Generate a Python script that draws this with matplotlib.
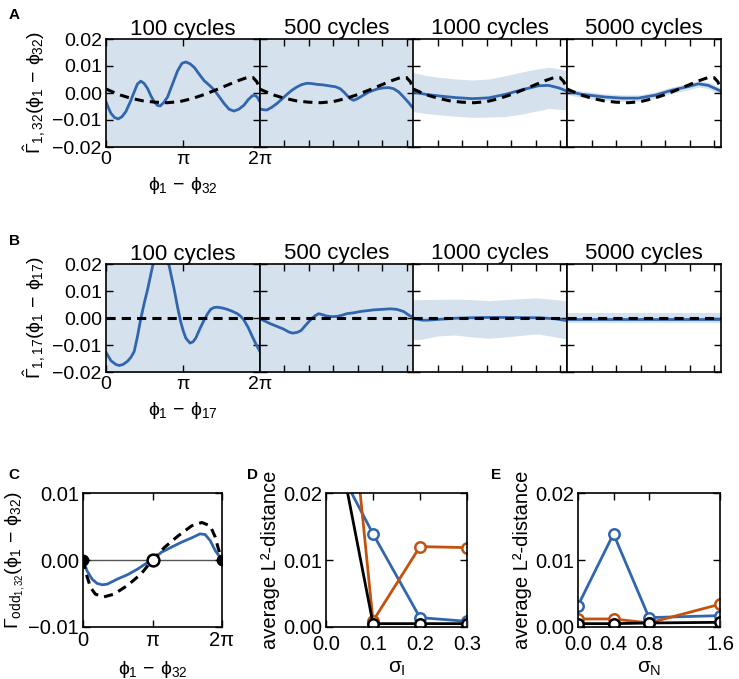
import numpy as np
import matplotlib
matplotlib.use("Agg")
import matplotlib.pyplot as plt
from matplotlib.ticker import FuncFormatter

plt.rcParams['font.family'] = ['Liberation Sans', 'DejaVu Sans']
plt.rcParams['mathtext.fontset'] = 'custom'
plt.rcParams['mathtext.rm'] = 'Liberation Sans'
plt.rcParams['mathtext.it'] = 'Liberation Sans'
plt.rcParams['mathtext.bf'] = 'Liberation Sans:bold'
plt.rcParams['mathtext.fallback'] = 'stixsans'

TWO_PI = 2 * np.pi
BLUE = '#3166ae'
ORANGE = '#c2520f'
BAND = '#d6e1ee'

# ---------------- data ----------------
cycles = ['100 cycles', '500 cycles', '1000 cycles', '5000 cycles']

# Panel A: true interaction function (dashed)
A_true_x = [0.00, 0.30, 0.60, 1.00, 1.50, 2.00, 2.50, 3.00, 3.50, 4.00, 4.50, 5.00, 5.40, 5.75, 6.00, 6.15, 6.28]
A_true_y = [0.0015, 0.0003, -0.0008, -0.0019, -0.0029, -0.0034, -0.0036, -0.0032, -0.0021, -0.0006,
            0.0012, 0.0031, 0.0046, 0.0057, 0.0057, 0.0042, 0.0015]

A100_x = [0.00, 0.10, 0.20, 0.35, 0.50, 0.65, 0.81, 0.98, 1.15, 1.28, 1.42, 1.56, 1.70, 1.84, 1.97, 2.10,
          2.21, 2.35, 2.51, 2.70, 2.92, 3.10, 3.26, 3.43, 3.60, 3.80, 4.00, 4.20, 4.41, 4.62, 4.82, 5.02,
          5.22, 5.42, 5.63, 5.80, 5.97, 6.08, 6.17, 6.28]
A100_y = [-0.0033, -0.0055, -0.0075, -0.0091, -0.0096, -0.0088, -0.0069, -0.0035, 0.0004, 0.0033, 0.0044,
          0.0035, 0.0016, -0.0012, -0.0033, -0.0046, -0.0048, -0.0036, -0.0015, 0.0030, 0.0082, 0.0110,
          0.0115, 0.0108, 0.0095, 0.0070, 0.0046, 0.0030, 0.0012, -0.0014, -0.0039, -0.0060, -0.0067,
          -0.0060, -0.0045, -0.0025, -0.0010, -0.0009, -0.0015, -0.0033]

A500_x = [0.00, 0.15, 0.30, 0.50, 0.71, 0.92, 1.12, 1.32, 1.52, 1.72, 1.93, 2.13, 2.34, 2.60, 2.88, 3.10,
          3.29, 3.45, 3.56, 3.70, 3.84, 4.00, 4.24, 4.45, 4.65, 4.85, 5.06, 5.27, 5.47, 5.68, 5.88, 6.08, 6.28]
A500_y = [-0.0058, -0.0062, -0.0063, -0.0053, -0.0039, -0.0022, -0.0005, 0.0010, 0.0022, 0.0031, 0.0036,
          0.0035, 0.0032, 0.0030, 0.0026, 0.0023, 0.0016, 0.0003, -0.0008, -0.0021, -0.0027, -0.0021,
          -0.0008, 0.0003, 0.0010, 0.0016, 0.0019, 0.0020, 0.0016, 0.0004, -0.0015, -0.0035, -0.0058]

A1000_x = [0.00, 0.52, 1.06, 1.74, 2.42, 3.09, 3.77, 4.45, 5.13, 5.54, 5.94, 6.28]
A1000_y = [0.0004, -0.0005, -0.0011, -0.0017, -0.0021, -0.0018, -0.0005, 0.0012, 0.0027, 0.0028, 0.0019, 0.0007]
A1000_hi = [0.0076, 0.0065, 0.0058, 0.0052, 0.0048, 0.0052, 0.0064, 0.0078, 0.0090, 0.0095, 0.0090, 0.0082]
A1000_lo = [-0.0069, -0.0076, -0.0081, -0.0086, -0.0090, -0.0089, -0.0087, -0.0078, -0.0065, -0.0057, -0.0060, -0.0063]

A5000_x = [0.00, 0.61, 1.56, 2.24, 2.92, 3.60, 4.27, 4.95, 5.36, 5.77, 6.28]
A5000_y = [0.0006, -0.0005, -0.0015, -0.0019, -0.0019, -0.0008, 0.0010, 0.0024, 0.0034, 0.0028, 0.0007]
A5000_hi = [0.0018, 0.0007, -0.0003, -0.0007, -0.0007, 0.0004, 0.0022, 0.0036, 0.0046, 0.0040, 0.0019]
A5000_lo = [-0.0006, -0.0017, -0.0027, -0.0031, -0.0031, -0.0020, -0.0002, 0.0012, 0.0022, 0.0016, -0.0005]

# Panel B: true function is zero
B_true_x = [0.0, 6.2832]
B_true_y = [0.0, 0.0]

B100_x = [0.00, 0.20, 0.40, 0.54, 0.70, 0.88, 1.02, 1.15, 1.28, 1.42, 1.56, 1.70, 1.90, 2.05, 2.24, 2.42,
          2.58, 2.78, 2.92, 3.05, 3.16, 3.26, 3.43, 3.55, 3.66, 3.83, 4.00, 4.14, 4.27, 4.41, 4.55, 4.75,
          4.95, 5.15, 5.36, 5.50, 5.63, 5.80, 5.97, 6.12, 6.28]
B100_y = [-0.0127, -0.0158, -0.0172, -0.0176, -0.0172, -0.0160, -0.0145, -0.0124, -0.0070, -0.0002,
          0.0055, 0.0107, 0.0192, 0.0235, 0.0255, 0.0235, 0.0192, 0.0107, 0.0040, -0.0015, -0.0050,
          -0.0075, -0.0093, -0.0088, -0.0075, -0.0040, -0.0008, 0.0015, 0.0032, 0.0039, 0.0040, 0.0037,
          0.0032, 0.0025, 0.0016, 0.0006, -0.0008, -0.0035, -0.0069, -0.0097, -0.0124]

B500_x = [0.00, 0.44, 0.98, 1.20, 1.35, 1.55, 1.70, 1.87, 2.07, 2.25, 2.41, 2.58, 2.75, 2.95, 3.16, 3.36,
          3.56, 3.83, 4.11, 4.38, 4.65, 5.00, 5.33, 5.60, 5.88, 6.10, 6.28]
B500_y = [-0.0002, -0.0021, -0.0041, -0.0052, -0.0056, -0.0053, -0.0046, -0.0028, -0.0008, 0.0007, 0.0016,
          0.0012, 0.0007, 0.0005, 0.0006, 0.0010, 0.0016, 0.0019, 0.0024, 0.0027, 0.0030, 0.0032, 0.0034,
          0.0032, 0.0024, 0.0010, 0.0002]

B1000_x = [0.00, 0.38, 0.60, 1.06, 1.70, 2.42, 3.10, 3.77, 4.90, 5.13, 5.81, 6.28]
B1000_y = [-0.0002, -0.0008, -0.0008, -0.0005, -0.0001, 0.0001, 0.0002, 0.0002, 0.0001, 0.0001, -0.0003, -0.0010]
B1000_hi = [0.0068, 0.0068, 0.0069, 0.0069, 0.0070, 0.0068, 0.0064, 0.0068, 0.0074, 0.0074, 0.0068, 0.0064]
B1000_lo = [-0.0081, -0.0078, -0.0074, -0.0066, -0.0063, -0.0070, -0.0075, -0.0070, -0.0060, -0.0060, -0.0070, -0.0078]

B5000_x = [0.00, 6.28]
B5000_y = [-0.0002, -0.0002]
B5000_hi = [0.0017, 0.0017]
B5000_lo = [-0.0019, -0.0019]

FULL = 0.05  # CI for 100 / 500 cycles exceeds the axis range

# Panel C: odd part
C_est_x = [0.00, 0.18, 0.41, 0.64, 0.87, 1.10, 1.55, 2.01, 2.47, 2.93, 3.14, 3.54, 3.99, 4.45, 4.91, 5.29,
           5.52, 5.75, 5.98, 6.28]
C_est_y = [0.0, -0.0016, -0.00285, -0.0035, -0.0037, -0.0036, -0.00285, -0.0022, -0.00135, -0.00035, 0.0,
           0.00115, 0.0019, 0.00265, 0.0033, 0.0039, 0.0038, 0.0029, 0.0014, 0.0]
C_true_x = [0.00, 0.15, 0.34, 0.56, 0.95, 1.40, 2.01, 2.62, 3.14, 3.69, 4.30, 4.91, 5.37, 5.75, 5.98, 6.10, 6.28]
C_true_y = [0.0, -0.0021, -0.0041, -0.0051, -0.0055, -0.0051, -0.0038, -0.0021, 0.0, 0.0019, 0.0036, 0.0051,
            0.0056, 0.0051, 0.0034, 0.0019, 0.0]
C_stable_x = [0.0, 6.2832]
C_unstable_x = [3.1416]

# Panel D: vs sigma_I
D_x = [0.0, 0.1, 0.2, 0.3]
D_blue = [0.0273, 0.0139, 0.0014, 0.00085]
D_orange = [0.071, 0.0009, 0.0120, 0.01185]
D_black = [0.0366, 0.0005, 0.0005, 0.0005]

# Panel E: vs sigma_N
E_x = [0.0, 0.4, 0.8, 1.6]
E_blue = [0.0032, 0.0139, 0.0014, 0.0017]
E_orange = [0.0012, 0.0012, 0.0006, 0.0034]
E_black = [0.0005, 0.0005, 0.0006, 0.0007]

# ---------------- figure ----------------
W, H = 739, 679
fig = plt.figure(figsize=(W / 100, H / 100), dpi=100)


def ax_px(l, t, r, b):
    return fig.add_axes([l / W, 1 - b / H, (r - l) / W, (b - t) / H])


def minus_fmt(fmt):
    return FuncFormatter(lambda v, p: (fmt % v).replace('-', '\u2212'))


def style(ax, labelsize):
    for s in ax.spines.values():
        s.set_linewidth(1.2)
        s.set_color('black')
    ax.tick_params(direction='in', top=True, right=True, length=5, width=1,
                   labelsize=labelsize, pad=3, colors='black')


def row(top, bottom, series, true_x, true_y, ylabel, xlabel):
    lefts = [106, 259.5, 413, 567]
    w = 154
    axes = []
    for i, (xs, ys, hi, lo) in enumerate(series):
        ax = ax_px(lefts[i], top, lefts[i] + w, bottom)
        ax.fill_between(xs, lo, hi, color=BAND, lw=0, zorder=1)
        ax.plot(xs, ys, color=BLUE, lw=2.0, zorder=2)
        ax.plot(true_x, true_y, color='black', lw=2.2, ls=(0, (3, 2)), zorder=3)
        ax.set_xlim(0, TWO_PI)
        ax.set_ylim(-0.02, 0.02)
        ax.set_yticks([-0.02, -0.01, 0.0, 0.01, 0.02])
        style(ax, 14)
        ax.set_title(cycles[i], fontsize=16, pad=3)
        if i == 0:
            ax.set_xticks([0, np.pi, TWO_PI])
            ax.set_xticklabels(['0', '\u03c0', '2\u03c0'])
            ax.yaxis.set_major_formatter(minus_fmt('%.2f'))
            ax.set_ylabel(ylabel, fontsize=14, labelpad=3)
            ax.set_xlabel(xlabel, fontsize=14, labelpad=5)
        else:
            ax.set_xticks([1, 2, 3, 4, 5, 6])
            ax.tick_params(labelbottom=False, labelleft=False)
        axes.append(ax)
    return axes


seriesA = [
    (A100_x, A100_y, [FULL] * len(A100_x), [-FULL] * len(A100_x)),
    (A500_x, A500_y, [FULL] * len(A500_x), [-FULL] * len(A500_x)),
    (A1000_x, A1000_y, A1000_hi, A1000_lo),
    (A5000_x, A5000_y, A5000_hi, A5000_lo),
]
seriesB = [
    (B100_x, B100_y, [FULL] * len(B100_x), [-FULL] * len(B100_x)),
    (B500_x, B500_y, [FULL] * len(B500_x), [-FULL] * len(B500_x)),
    (B1000_x, B1000_y, B1000_hi, B1000_lo),
    (B5000_x, B5000_y, B5000_hi, B5000_lo),
]

row(39, 147, seriesA, A_true_x, A_true_y,
    r'$\hat{\Gamma}_{1,32}(\phi_1\,-\,\phi_{32})$', r'$\phi_1\,-\,\phi_{32}$')
row(264, 372, seriesB, B_true_x, B_true_y,
    r'$\hat{\Gamma}_{1,17}(\phi_1\,-\,\phi_{17})$', r'$\phi_1\,-\,\phi_{17}$')

# Panel C
axC = ax_px(83, 493, 222, 627)
axC.axhline(0, color='#555555', lw=1.0, zorder=1)
axC.plot(C_est_x, C_est_y, color=BLUE, lw=2.0, zorder=2)
axC.plot(C_true_x, C_true_y, color='black', lw=2.2, ls=(0, (3, 2)), zorder=3)
axC.plot(C_stable_x, [0] * len(C_stable_x), 'o', color='black', ms=7.5, zorder=4, clip_on=True)
axC.plot(C_unstable_x, [0] * len(C_unstable_x), 'o', mfc='white', mec='black', mew=1.8, ms=8.5, zorder=4)
axC.set_xlim(0, TWO_PI)
axC.set_ylim(-0.01, 0.01)
axC.set_xticks([0, np.pi, TWO_PI])
axC.set_xticklabels(['0', '\u03c0', '2\u03c0'])
axC.set_yticks([-0.01, 0.0, 0.01])
axC.yaxis.set_major_formatter(minus_fmt('%.2f'))
style(axC, 14.5)
axC.set_ylabel(r'$\Gamma_{\mathrm{odd}_{1,32}}(\phi_1\,-\,\phi_{32})$', fontsize=14, labelpad=1)
axC.set_xlabel(r'$\phi_1\,-\,\phi_{32}$', fontsize=14, labelpad=6)


def lineplot(ax, xs, blue, orange, black):
    for ys, c in [(blue, BLUE), (orange, ORANGE), (black, 'black')]:
        ax.plot(xs, ys, '-o', color=c, lw=2.0, ms=7.5, mfc='white', mec=c, mew=1.8)


axD = ax_px(326, 493, 467, 627)
lineplot(axD, D_x, D_blue, D_orange, D_black)
axD.set_xlim(0, 0.3)
axD.set_ylim(0, 0.02)
axD.set_xticks([0.0, 0.1, 0.2, 0.3])
axD.set_yticks([0.0, 0.01, 0.02])
axD.xaxis.set_major_formatter(minus_fmt('%.1f'))
axD.yaxis.set_major_formatter(minus_fmt('%.2f'))
style(axD, 14.5)
axD.tick_params(axis='x', pad=5.5)
axD.set_ylabel('average L\u00b2-distance', fontsize=14.5, labelpad=2)
axD.set_xlabel(r'$\sigma_\mathrm{I}$', fontsize=15, labelpad=4)

axE = ax_px(578, 493, 720, 627)
lineplot(axE, E_x, E_blue, E_orange, E_black)
axE.set_xlim(0, 1.6)
axE.set_ylim(0, 0.02)
axE.set_xticks(E_x)
axE.set_yticks([0.0, 0.01, 0.02])
axE.xaxis.set_major_formatter(minus_fmt('%.1f'))
axE.yaxis.set_major_formatter(minus_fmt('%.2f'))
style(axE, 14.5)
axE.tick_params(axis='x', pad=5.5)
axE.set_ylabel('average L\u00b2-distance', fontsize=14.5, labelpad=2)
axE.set_xlabel(r'$\sigma_\mathrm{N}$', fontsize=15, labelpad=4)

# panel letters
for lab, x, y in [('A', 14, 15), ('B', 14, 241), ('C', 14, 475), ('D', 253, 475), ('E', 496, 475)]:
    fig.text(x / W, 1 - y / H, lab, fontsize=11, fontweight='bold', ha='center', va='center')

fig.savefig('out.png', dpi=100)
